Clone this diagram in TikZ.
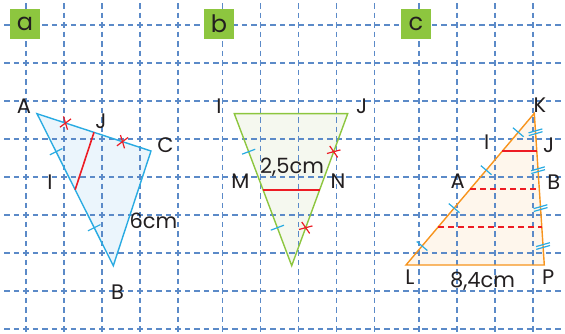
\documentclass[tikz,border=0pt]{standalone}
\usepackage{fontspec}
\setmainfont{Poppins}
\usepackage{xcolor}
\definecolor{cGrid}{HTML}{5B8AC8}
\definecolor{cTag}{HTML}{8DC63F}
\definecolor{cText}{HTML}{231F20}
\definecolor{cBlue}{HTML}{29ABE2}
\definecolor{cBlueFill}{HTML}{EBF5FC}
\definecolor{cGreen}{HTML}{8DC63F}
\definecolor{cGreenFill}{HTML}{F5F8EF}
\definecolor{cOrange}{HTML}{F7941D}
\definecolor{cOrangeFill}{HTML}{FEF6EC}
\definecolor{cRed}{HTML}{ED1C24}
\usepackage{tikz}
\usetikzlibrary{calc,decorations.markings}
\tikzset{
  grid-line/.style={color=cGrid,line width=1.6pt,dash pattern=on 5.5pt off 4pt},
  tag-box/.style={fill=cTag,minimum size=30pt,inner sep=0pt,text=cText,
    font=\fontsize{24}{24}\selectfont},
  pt-label/.style={inner sep=0pt,text=cText,font=\fontsize{21}{21}\selectfont},
  tri-edge/.style={line width=1.4pt,line join=miter},
  mid-seg/.style={color=cRed,line width=1.6pt},
  mid-seg-dashed/.style={mid-seg,dash pattern=on 6pt off 4pt},
  % marques d'egalite : trait simple, double trait, croix
  mark-bar/.style={postaction={decorate,decoration={markings,
    mark=at position #1 with {\draw[color=cBlue,line width=1.2pt] (0pt,-7pt) -- (0pt,7pt);}}}},
  mark-dbar/.style={postaction={decorate,decoration={markings,
    mark=at position #1 with {\draw[color=cBlue,line width=1.2pt] (2.9pt,-7pt) -- (-0.1pt,7pt)
      (0.1pt,-7pt) -- (-2.9pt,7pt);}}}},
  mark-cross/.style={postaction={decorate,decoration={markings,
    mark=at position #1 with {\draw[color=cRed,line width=1.2pt] (-4pt,-5.7pt) -- (4pt,5.7pt)
      (-4pt,5.7pt) -- (4pt,-5.7pt);}}}},
}

\begin{document}
\begin{tikzpicture}[x=1pt,y=-1pt]
  \useasboundingbox (0,0) rectangle (565,334);
  % sommets
  \coordinate (aA) at (37,113.7);
  \coordinate (aC) at (151,151);
  \coordinate (aB) at (113.3,265.7);
  \coordinate (aI) at ($(aA)!0.5!(aB)$);
  \coordinate (aJ) at ($(aA)!0.5!(aC)$);
  \coordinate (bI) at (234.3,113.7);
  \coordinate (bJ) at (347.7,113.7);
  \coordinate (bT) at (291.7,265.7);
  \coordinate (bM) at ($(bI)!0.5!(bT)$);
  \coordinate (bN) at ($(bJ)!0.5!(bT)$);
  \coordinate (cK) at (534.3,113.3);
  \coordinate (cL) at (406,265);
  \coordinate (cP) at (544.3,265);
  \coordinate (cI) at ($(cK)!0.25!(cL)$);
  \coordinate (cJ) at ($(cK)!0.25!(cP)$);
  \coordinate (cA) at ($(cK)!0.5!(cL)$);
  \coordinate (cB) at ($(cK)!0.5!(cP)$);
  \coordinate (cD) at ($(cK)!0.75!(cL)$);
  \coordinate (cE) at ($(cK)!0.75!(cP)$);
  % remplissages
  \fill[cBlueFill] (aA) -- (aC) -- (aB) -- cycle;
  \fill[cGreenFill] (bI) -- (bJ) -- (bT) -- cycle;
  \fill[cOrangeFill] (cK) -- (cL) -- (cP) -- cycle;
  % quadrillage
  \foreach \y in {25,63,...,329}
    \draw[grid-line] (4.25,\y) -- (565,\y);
  \foreach \x in {26,64,102,140,178,222.5,260.5,298.5,336.5,374.5,419,457,495,533}
    \draw[grid-line] (\x,3.25) -- (\x,334);
  % etiquettes des figures
  \node[tag-box] (tagA) at (25,24) {a};
  \node[tag-box] (tagB) at (219,24) {b};
  \node[tag-box] (tagC) at (416,24) {c};
  % triangles et droites des milieux
  \draw[tri-edge,color=cBlue] (aA) -- (aC) -- (aB) -- cycle;
  \draw[tri-edge,color=cGreen] (bI) -- (bJ) -- (bT) -- cycle;
  \draw[tri-edge,color=cOrange] (cK) -- (cL) -- (cP) -- cycle;
  \draw[mid-seg] (aI) -- (aJ);
  \draw[mid-seg] (bM) -- (bN);
  \draw[mid-seg] (cI) -- (cJ);
  \draw[mid-seg-dashed] (cA) -- (cB);
  \draw[mid-seg-dashed] (cD) -- (cE);
  % noms des points
  \node[pt-label] (lA) at (24,106) {A};
  \node[pt-label] (lJ) at (101,121) {J};
  \node[pt-label] (lC) at (165.5,145) {C};
  \node[pt-label] (lI) at (50,182) {I};
  \node[pt-label] (lBC) at (153.5,221) {6cm};
  \node[pt-label] (lB) at (117.5,292) {B};
  \node[pt-label] (lbI) at (219,106) {I};
  \node[pt-label] (lbJ) at (361.7,106) {J};
  \node[pt-label] (lbM) at (240.5,181) {M};
  \node[pt-label] (lbN) at (338,181) {N};
  \node[pt-label] (lMN) at (292,167.5) {2,5cm};
  \node[pt-label] (lcK) at (540,105) {K};
  \node[pt-label] (lcI) at (486.7,142.5) {I};
  \node[pt-label] (lcJ) at (548.7,145) {J};
  \node[pt-label] (lcA) at (457.8,181.7) {A};
  \node[pt-label] (lcB) at (553.7,181.7) {B};
  \node[pt-label] (lcL) at (410,277) {L};
  \node[pt-label] (lcP) at (548.3,277) {P};
  \node[pt-label] (lLP) at (482.5,281) {8,4cm};
  % codages
  \path[mark-bar=0.25,mark-bar=0.75] (aA) -- (aB);
  \path[mark-cross=0.25,mark-cross=0.75] (aA) -- (aC);
  \path[mark-bar=0.25,mark-bar=0.75] (bI) -- (bT);
  \path[mark-cross=0.25,mark-cross=0.75] (bJ) -- (bT);
  \path[mark-bar=0.125,mark-bar=0.375,mark-bar=0.625,mark-bar=0.875] (cK) -- (cL);
  \path[mark-dbar=0.125,mark-dbar=0.375,mark-dbar=0.625,mark-dbar=0.875] (cK) -- (cP);
\end{tikzpicture}
\end{document}
